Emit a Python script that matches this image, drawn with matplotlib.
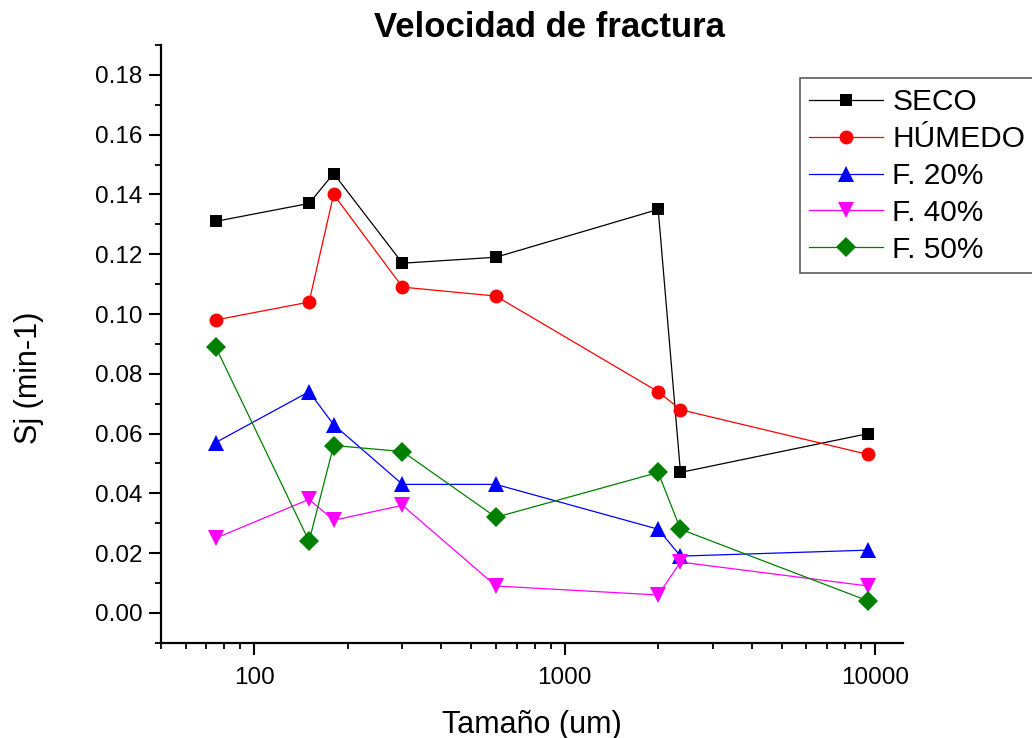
import matplotlib
matplotlib.use("Agg")
import matplotlib.pyplot as plt
from matplotlib.ticker import FixedLocator, MultipleLocator, NullFormatter, FuncFormatter, LogLocator

plt.rcParams['font.family'] = ['Liberation Sans', 'DejaVu Sans']

# tamaños de tamiz (um) y velocidades de fractura Sj (min-1)
tamano = [75, 150, 180, 300, 600, 2000, 2360, 9500]
seco = [0.131, 0.137, 0.147, 0.117, 0.119, 0.135, 0.047, 0.060]
humedo = [0.098, 0.104, 0.140, 0.109, 0.106, 0.074, 0.068, 0.053]
f20 = [0.057, 0.074, 0.063, 0.043, 0.043, 0.028, 0.019, 0.021]
f40 = [0.025, 0.038, 0.031, 0.036, 0.009, 0.006, 0.017, 0.009]
f50 = [0.089, 0.024, 0.056, 0.054, 0.032, 0.047, 0.028, 0.004]

series = [
    ("SECO", seco, "black", "s", 9),
    ("HÚMEDO", humedo, "red", "o", 10),
    ("F. 20%", f20, "blue", "^", 11.5),
    ("F. 40%", f40, "magenta", "v", 11.5),
    ("F. 50%", f50, "green", "D", 10),
]

fig = plt.figure(figsize=(10.32, 7.38), dpi=100)
ax = fig.add_axes([0.156, 0.129, 0.719, 0.81])

for nombre, vals, color, marca, ms in series:
    ax.plot(tamano, vals, color=color, marker=marca, markersize=ms,
            linewidth=0.9, label=nombre, markeredgewidth=0)

ax.set_xscale("log")
ax.set_xlim(50, 12300)
ax.set_ylim(-0.01, 0.19)

ax.xaxis.set_major_locator(FixedLocator([100, 1000, 10000]))
ax.xaxis.set_major_formatter(FuncFormatter(lambda v, p: "%d" % v))
ax.xaxis.set_minor_locator(LogLocator(base=10, subs=range(2, 10)))
ax.xaxis.set_minor_formatter(NullFormatter())
ax.yaxis.set_major_locator(FixedLocator([0.00, 0.02, 0.04, 0.06, 0.08, 0.10, 0.12, 0.14, 0.16, 0.18]))
ax.yaxis.set_major_formatter(FuncFormatter(lambda v, p: "%.2f" % v))
ax.yaxis.set_minor_locator(MultipleLocator(0.01))

for s in ["top", "right"]:
    ax.spines[s].set_visible(False)
for s in ["left", "bottom"]:
    ax.spines[s].set_linewidth(1.6)

ax.tick_params(which="major", direction="out", length=8.5, width=1.5, labelsize=17.5)
ax.tick_params(which="minor", direction="out", length=4.3, width=1.3)
ax.tick_params(axis="x", which="major", pad=9)
ax.tick_params(axis="y", which="major", pad=5)

ax.set_xlabel("Tamaño (um)", fontsize=22, labelpad=15)
ax.set_ylabel("Sj (min-1)", fontsize=22)
ax.yaxis.set_label_coords(-0.158, 0.443)
ax.set_title("Velocidad de fractura", fontsize=25, fontweight="bold", pad=6, x=0.524)

leg = ax.legend(loc="upper left", bbox_to_anchor=(0.861, 0.944), fontsize=21.5,
                frameon=True, fancybox=False, handlelength=2.45, labelspacing=0.3,
                borderpad=0.32, handletextpad=0.33, borderaxespad=0)
leg.get_frame().set_edgecolor("#333333")
leg.get_frame().set_linewidth(1.2)

fig.savefig("out.png", dpi=100)
